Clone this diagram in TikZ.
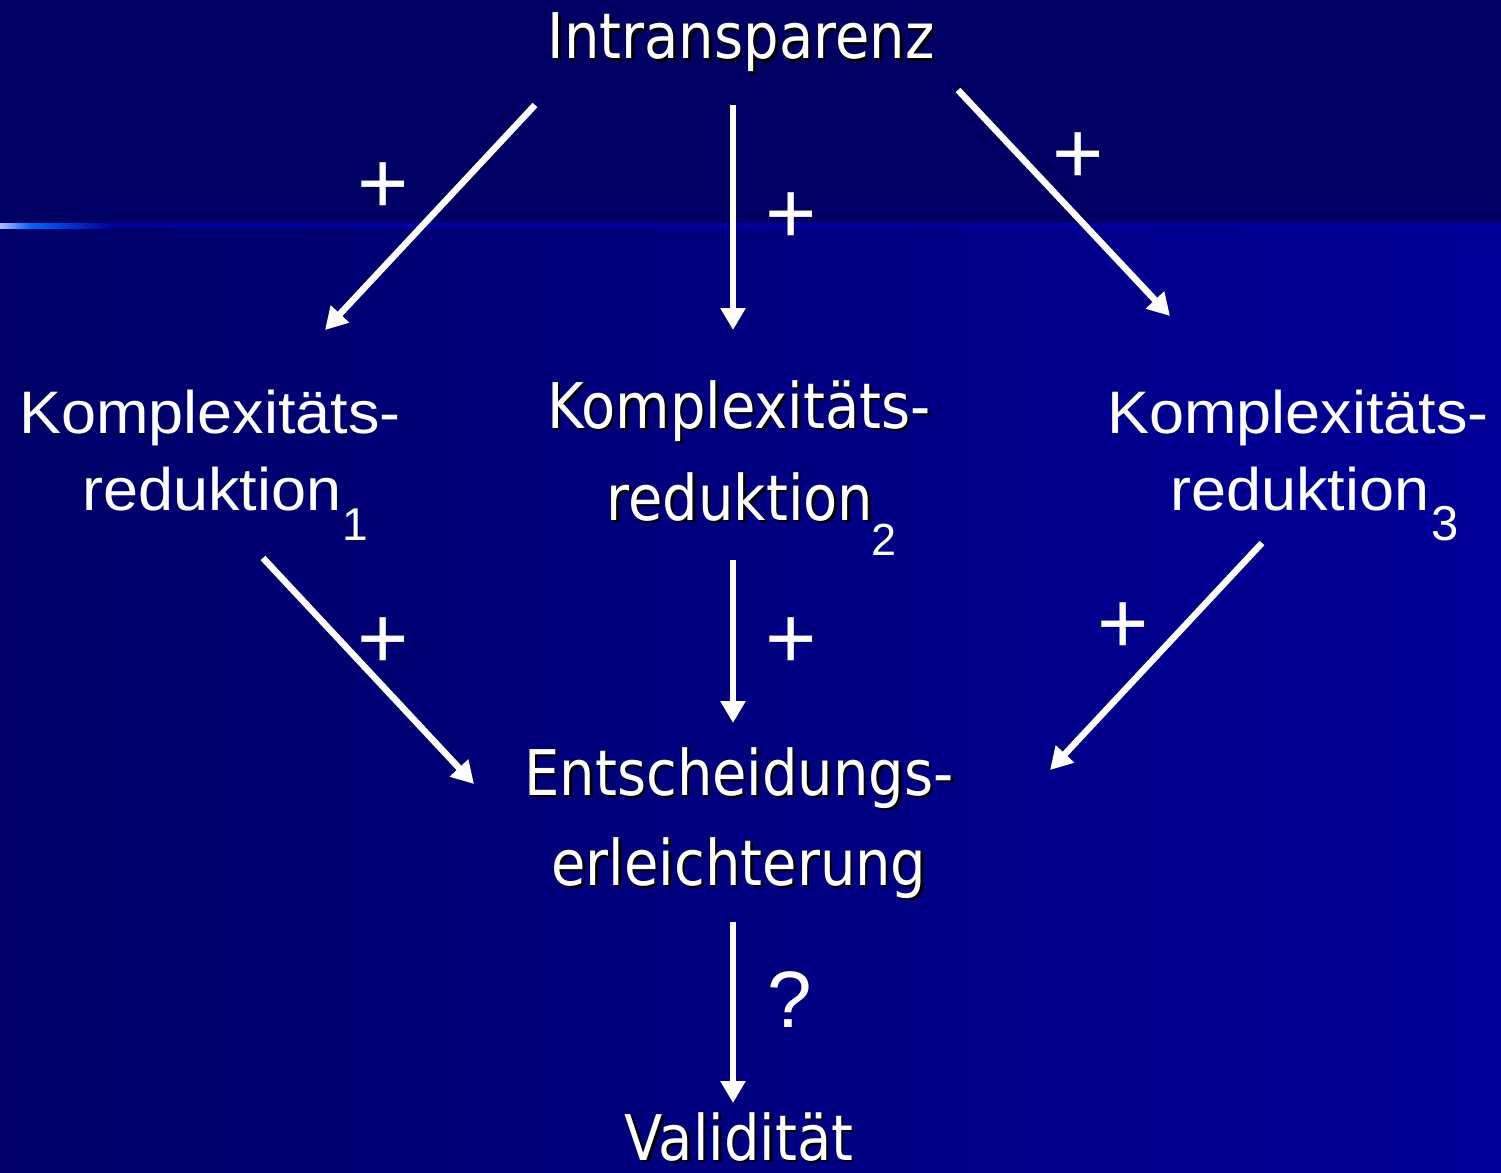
\documentclass[tikz,border=0pt]{standalone}
\usepackage{fontspec}
\setmainfont{Liberation Sans}
\newfontfamily\arialf[FakeStretch=1.05]{Liberation Sans}
\newfontfamily\tahomaf[FakeStretch=0.888]{DejaVu Sans}
\usetikzlibrary{arrows.meta}
\definecolor{topbg}{RGB}{0,0,100}
\definecolor{botleft}{RGB}{0,0,104}
\definecolor{botright}{RGB}{0,0,153}
\definecolor{linea}{RGB}{175,190,255}
\definecolor{lineb}{RGB}{0,102,255}
\definecolor{linec}{RGB}{0,0,160}
\tikzset{
  tah/.style={font=\tahomaf\fontsize{63}{70}\selectfont, text=white, inner sep=0pt, anchor=base},
  ari/.style={font=\arialf\fontsize{60}{66}\selectfont, text=white, inner sep=0pt, anchor=base},
  subs/.style={text=white, inner sep=0pt, anchor=base west},
  sign/.style={font=\fontsize{88}{90}\selectfont, text=white, inner sep=0pt},
  arr/.style={draw=white, line width=6.5pt, -{Triangle[length=22pt,width=24pt]}},
}
\newcommand\shadowtext[3]{%
  \node[tah,text=black,xshift=2.5pt,yshift=-2.5pt] at (#2) {#3};
  \node[tah] (#1) at (#2) {#3};}
\begin{document}
\begin{tikzpicture}[x=1pt,y=-1pt]
\useasboundingbox (0,0) rectangle (1501,1172);
% background
\fill[topbg] (0,0) rectangle (1501,225);
\shade[left color=botleft, right color=botright] (0,225) rectangle (1501,1172);
\shade[left color=linea, right color=lineb] (0,223) rectangle (30,228);
\shade[left color=lineb, right color=linec] (30,223) rectangle (110,228);
\fill[linec] (110,223) rectangle (1501,228);
% positions
\coordinate (pI) at (741,59);
\coordinate (pM1) at (739,428);
\coordinate (pM2) at (740,520);
\coordinate (pE1) at (739,795);
\coordinate (pE2) at (739,885);
\coordinate (pV) at (739,1160);
% texts
\shadowtext{intr}{pI}{Intransparenz}
\shadowtext{kmA}{pM1}{Komplexitäts-}
\shadowtext{kmB}{pM2}{reduktion}
\shadowtext{entA}{pE1}{Entscheidungs-}
\shadowtext{entB}{pE2}{erleichterung}
\shadowtext{val}{pV}{Validität}
\node[ari] (klA) at (210,433) {Komplexitäts-};
\node[ari] (klB) at (212,510) {reduktion};
\node[ari] (krA) at (1298,433) {Komplexitäts-};
\node[ari] (krB) at (1300,510) {reduktion};
% subscripts
\node[subs, font=\fontsize{46}{50}\selectfont] (sub1) at (342,540) {1};
\node[subs, font=\fontsize{45}{50}\selectfont] (sub2) at (871.5,555) {2};
\node[subs, font=\fontsize{49}{54}\selectfont] (sub3) at (1431,540) {3};
% signs
\node[sign] (s1) at (383,188) {+};
\node[sign] (s2) at (791,218) {+};
\node[sign] (s3) at (1078,158) {+};
\node[sign] (s4) at (383,643) {+};
\node[sign] (s5) at (791,643) {+};
\node[sign] (s6) at (1123,628) {+};
\node[sign,font=\fontsize{80}{84}\selectfont] (q) at (790,1000) {?};
% arrow ends
\coordinate (a1s) at (535,105); \coordinate (a1e) at (325,330);
\coordinate (a2s) at (733,105); \coordinate (a2e) at (733,330);
\coordinate (a3s) at (958,90);  \coordinate (a3e) at (1170,316);
\coordinate (b1s) at (263,558); \coordinate (b1e) at (474,784);
\coordinate (b2s) at (733,560); \coordinate (b2e) at (733,723);
\coordinate (b3s) at (1262,543); \coordinate (b3e) at (1050,770);
\coordinate (cs) at (733,922);  \coordinate (ce) at (733,1103);
\draw[arr] (a1s) -- (a1e);
\draw[arr] (a2s) -- (a2e);
\draw[arr] (a3s) -- (a3e);
\draw[arr] (b1s) -- (b1e);
\draw[arr] (b2s) -- (b2e);
\draw[arr] (b3s) -- (b3e);
\draw[arr] (cs) -- (ce);
\end{tikzpicture}
\end{document}
